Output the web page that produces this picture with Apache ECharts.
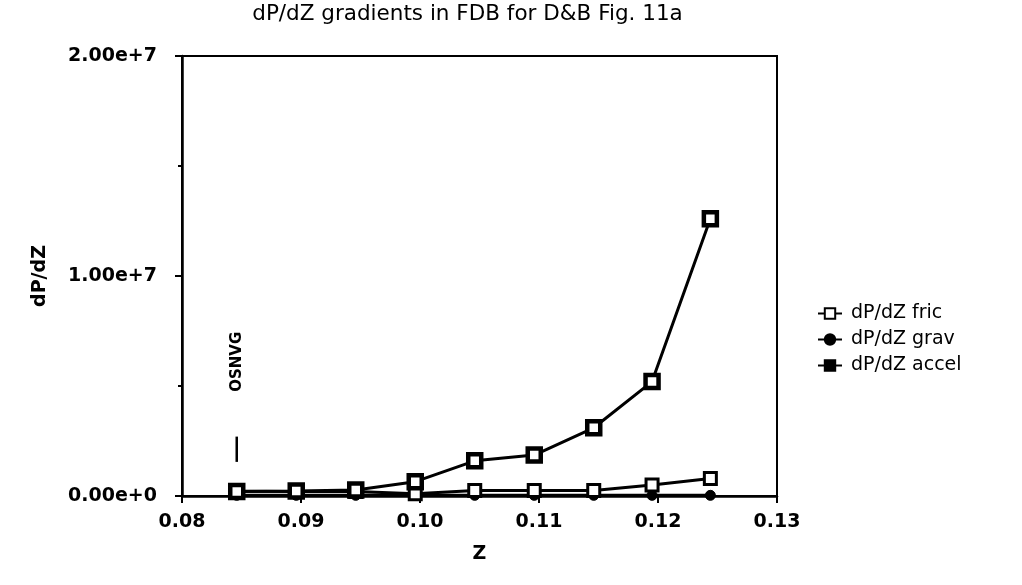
<!DOCTYPE html>
<html>
<head>
<meta charset="utf-8">
<script src="https://cdn.jsdelivr.net/npm/echarts@6/dist/echarts.min.js"></script>
<style>html,body{margin:0;padding:0;background:#fff}#c{width:1022px;height:585px}</style>
</head>
<body>
<div id="c"></div>
<script>
// ---- data ----
var titleText = 'dP/dZ gradients in FDB for D&B Fig. 11a';
var zValues = [0.0846, 0.0896, 0.0946, 0.0996, 0.1046, 0.1096, 0.1146, 0.1195, 0.1244];
var fric  = [0.22e6, 0.2e6, 0.2e6, 0.1e6, 0.25e6, 0.25e6, 0.25e6, 0.5e6, 0.8e6];
var grav  = [0.03e6, 0.03e6, 0.03e6, 0.03e6, 0.03e6, 0.03e6, 0.03e6, 0.03e6, 0.03e6];
var accel = [0.2e6, 0.23e6, 0.27e6, 0.65e6, 1.6e6, 1.86e6, 3.1e6, 5.2e6, 12.6e6];
var seriesNames = ['dP/dZ fric', 'dP/dZ grav', 'dP/dZ accel'];
var xTicks = [0.08, 0.09, 0.10, 0.11, 0.12, 0.13];
var yTicks = [0, 1e7, 2e7];
var annotation = {label: 'OSNVG', z: 0.0846, textY: 6.1e6, lineFrom: 1.55e6, lineTo: 2.7e6};

function pairs(ys){ return zValues.map(function(z,i){ return [z, ys[i]]; }); }

var FONT = 'DejaVu Sans';
var chart = echarts.init(document.getElementById('c'));
var lineBase = {type:'line', lineStyle:{color:'#000', width:3}, showAllSymbol:true, animation:false};
chart.setOption({
  backgroundColor:'#fff',
  animation:false,
  grid:{left:182, right:245, top:56, bottom:89, show:true, borderColor:'#000', borderWidth:2, backgroundColor:'transparent'},
  xAxis:{
    type:'value', min:xTicks[0], max:xTicks[xTicks.length-1], interval:0.01,
    name:'Z', nameLocation:'middle', nameGap:49,
    nameTextStyle:{fontFamily:FONT, fontWeight:'bold', fontSize:19, color:'#000'},
    axisLine:{onZero:false, lineStyle:{color:'#000', width:2.5}},
    axisTick:{show:true, length:7, lineStyle:{color:'#000', width:2}},
    splitLine:{show:false},
    axisLabel:{margin:17, fontFamily:FONT, fontWeight:'bold', fontSize:19, color:'#000', formatter:function(v){return v.toFixed(2);}}
  },
  yAxis:{
    type:'value', min:yTicks[0], max:yTicks[yTicks.length-1], interval:1e7,
    name:'dP/dZ', nameLocation:'middle', nameGap:132,
    nameTextStyle:{fontFamily:FONT, fontWeight:'bold', fontSize:19, color:'#000'},
    axisLine:{lineStyle:{color:'#000', width:2.5}},
    axisTick:{show:true, length:7, lineStyle:{color:'#000', width:2}},
    minorTick:{show:true, splitNumber:2, length:4, lineStyle:{color:'#000', width:2}},
    splitLine:{show:false},
    axisLabel:{margin:25, fontFamily:FONT, fontWeight:'bold', fontSize:19, color:'#000', formatter:function(v){return v.toExponential(2);}}
  },
  legend:{
    orient:'vertical', left:812, top:299, itemGap:7, itemWidth:24, itemHeight:13,
    textStyle:{fontFamily:FONT, fontSize:19, color:'#000', padding:[0,0,0,4]},
    data:[
      {name:seriesNames[0]},
      {name:seriesNames[1]},
      {name:seriesNames[2], itemStyle:{color:'#000', borderColor:'#000'}}
    ]
  },
  series:[
    Object.assign({}, lineBase, {name:seriesNames[0], data:pairs(fric), symbol:'rect', symbolSize:12, itemStyle:{color:'#fff', borderColor:'#000', borderWidth:3}, z:3}),
    Object.assign({}, lineBase, {name:seriesNames[1], data:pairs(grav), symbol:'circle', symbolSize:10, itemStyle:{color:'#000', borderColor:'#000', borderWidth:1}, z:2}),
    Object.assign({}, lineBase, {name:seriesNames[2], data:pairs(accel), symbol:'rect', symbolSize:13, itemStyle:{color:'#fff', borderColor:'#000', borderWidth:4.5}, z:4})
  ]
});

// title and annotation positioned via the chart's scales
var grid = chart.getModel().getComponent('grid').coordinateSystem.getRect();
var pText = chart.convertToPixel({gridIndex:0}, [annotation.z, annotation.textY]);
var pA = chart.convertToPixel({gridIndex:0}, [annotation.z, annotation.lineFrom]);
var pB = chart.convertToPixel({gridIndex:0}, [annotation.z, annotation.lineTo]);
chart.setOption({
  graphic:[
    {type:'text', x: grid.x + grid.width/2 - 12, y: 14,
     style:{text:titleText, font:'21.5px "'+FONT+'"', fill:'#000', align:'center', verticalAlign:'middle'}},
    {type:'text', x:pText[0], y:pText[1], rotation:Math.PI/2,
     style:{text:annotation.label, font:'bold 15px "'+FONT+'"', fill:'#000', align:'center', verticalAlign:'middle'}},
    {type:'line', shape:{x1:pA[0], y1:pA[1], x2:pB[0], y2:pB[1]}, style:{stroke:'#000', lineWidth:2.5}}
  ]
});
</script>
</body>
</html>
